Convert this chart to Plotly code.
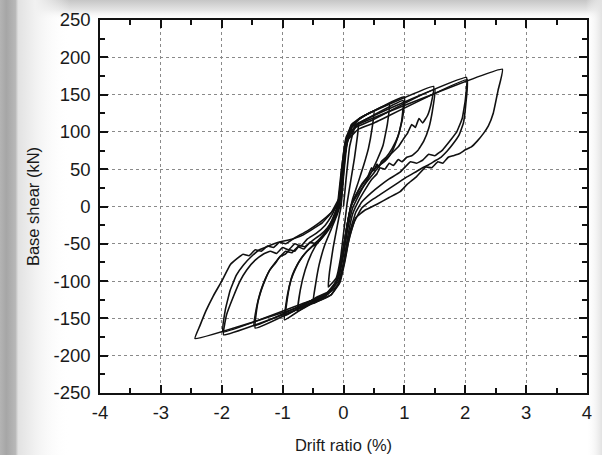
import base64
import plotly.graph_objects as go

# ---------------- data ----------------
# Each cycle: drift ratio (%) and base shear (kN)
cyc1_x = [0, 0.04, 0.1, 0.17, 0.25, 0.23, 0.18, 0.12, 0.06, 0.01, -0.05, -0.12, -0.25, -0.23, -0.17, -0.1, -0.04]
cyc1_y = [0, 35, 80, 103, 113, 95, 65, 35, 5, -30, -70, -96, -108, -88, -55, -25, 0]

cyc2_x = [-0.04, 0.0, 0.06, 0.14, 0.27, 0.5, 0.47, 0.41, 0.33, 0.24, 0.15, 0.07, 0.0, -0.07, -0.15, -0.3, -0.5,
          -0.46, -0.4, -0.31, -0.2, -0.1, -0.04]
cyc2_y = [0, 40, 85, 106, 118, 128, 105, 78, 55, 32, 10, -20, -55, -88, -106, -120, -130,
          -105, -78, -52, -30, -10, 5]

cyc3_x = [-0.04, 0.0, 0.05, 0.13, 0.28, 0.75, 0.72, 0.65, 0.55, 0.45, 0.35, 0.25, 0.15, 0.07, 0.0, -0.08, -0.2,
          -0.4, -0.75, -0.71, -0.63, -0.52, -0.4, -0.28, -0.16, -0.06]
cyc3_y = [5, 45, 88, 108, 119, 137, 110, 82, 62, 45, 30, 15, -2, -30, -65, -95, -113,
          -124, -140, -112, -85, -62, -45, -32, -15, 5]

cyc4_x = [-0.06, -0.01, 0.05, 0.13, 0.3, 1.0, 0.97, 0.9, 0.8, 0.7, 0.62, 0.58, 0.55, 0.5, 0.46, 0.4, 0.3,
          0.2, 0.12, 0.05, -0.02, -0.1, -0.25, -0.5, -0.97, -0.92, -0.86, -0.78, -0.7, -0.6, -0.5, -0.4, -0.3,
          -0.2, -0.1]
cyc4_y = [5, 48, 90, 110, 120, 147, 118, 95, 78, 66, 60, 52, 57, 48, 52, 40, 28,
          15, 0, -30, -65, -98, -117, -127, -152, -118, -98, -82, -70, -60, -52, -44, -35,
          -20, 0]

cyc5_x = [-0.1, -0.04, 0.03, 0.12, 0.35, 0.98, 0.95, 0.88, 0.8, 0.72, 0.64, 0.56, 0.48, 0.4, 0.3, 0.22,
          0.14, 0.06, -0.01, -0.08, -0.22, -0.45, -0.95, -0.9, -0.84, -0.76, -0.68, -0.6, -0.52, -0.44, -0.35,
          -0.25, -0.15, -0.08]
cyc5_y = [0, 45, 86, 106, 116, 142, 112, 90, 74, 64, 58, 54, 48, 40, 30, 18,
          4, -25, -62, -95, -113, -122, -146, -112, -92, -78, -68, -60, -54, -50, -42,
          -30, -14, 3]

cyc6_x = [-0.08, -0.03, 0.04, 0.15, 0.35, 1.48, 1.44, 1.38, 1.3, 1.24, 1.18, 1.12, 1.05, 0.98, 0.9,
          0.8, 0.7, 0.6, 0.5, 0.4, 0.3, 0.2, 0.12, 0.05, -0.03, -0.12, -0.3, -1.45,
          -1.41, -1.35, -1.28, -1.21, -1.12, -1.04, -0.95, -0.85, -0.75, -0.65, -0.55, -0.45, -0.35, -0.25,
          -0.15, -0.08]
cyc6_y = [0, 50, 92, 110, 122, 161, 138, 122, 112, 118, 106, 110, 98, 90, 80,
          72, 64, 56, 45, 35, 24, 12, 0, -30, -70, -100, -118, -163,
          -130, -112, -97, -85, -75, -67, -60, -62, -54, -57, -48, -50, -42, -32,
          -18, 0]

cyc7_x = [-0.08, -0.02, 0.06, 0.2, 0.45, 1.5, 1.46, 1.4, 1.32, 1.22, 1.12, 1.04, 0.96, 0.9, 0.82, 0.75,
          0.68, 0.6, 0.55, 0.45, 0.35, 0.25, 0.15, 0.07, 0.0, -0.08, -0.25, -0.5, -1.47,
          -1.43, -1.37, -1.3, -1.21, -1.12, -1.04, -0.96, -0.88, -0.8, -0.72, -0.64, -0.5, -0.38, -0.26, -0.15, -0.07]
cyc7_y = [0, 45, 88, 106, 115, 157, 128, 105, 88, 75, 68, 66, 60, 63, 55, 58,
          50, 52, 44, 35, 22, 8, -10, -40, -75, -100, -115, -125, -160,
          -136, -116, -100, -85, -76, -67, -64, -58, -60, -52, -54, -45, -38, -28, -14, 2]

cyc8_x = [-0.07, -0.01, 0.07, 0.22, 0.45, 2.02, 2.0, 1.95, 1.86, 1.75, 1.63, 1.5, 1.4, 1.3, 1.2,
          1.1, 0.93, 0.75, 0.6, 0.45, 0.3, 0.2, 0.1, 0.02, -0.06, -0.2, -0.45, -1.97,
          -1.92, -1.81, -1.7, -1.59, -1.45, -1.32, -1.2, -1.1, -1.0, -0.9, -0.8, -0.7, -0.6, -0.45, -0.3,
          -0.18, -0.08]
cyc8_y = [2, 50, 92, 110, 120, 173, 142, 118, 100, 88, 76, 68, 70, 62, 58,
          60, 46, 37, 28, 18, 6, -8, -35, -70, -100, -118, -128, -172,
          -145, -121, -100, -85, -72, -64, -60, -63, -55, -58, -50, -53, -44, -36, -25,
          -10, 8]

cyc9_x = [-0.08, -0.02, 0.08, 0.25, 0.5, 2.03, 2.01, 1.97, 1.9, 1.8, 1.7, 1.6, 1.5, 1.4, 1.3,
          1.2, 1.05, 0.9, 0.75, 0.6, 0.45, 0.3, 0.18, 0.08, 0.0, -0.08, -0.3, -0.6, -1.98,
          -1.94, -1.86, -1.76, -1.64, -1.5, -1.38, -1.26, -1.14, -1.02, -0.9, -0.78, -0.66, -0.5, -0.35,
          -0.2, -0.08]
cyc9_y = [8, 48, 90, 104, 112, 170, 138, 112, 96, 84, 74, 66, 61, 56, 52,
          47, 40, 32, 24, 16, 8, -2, -20, -48, -80, -104, -120, -128, -168,
          -138, -112, -92, -78, -66, -58, -54, -50, -47, -45, -42, -38, -30, -22,
          -8, 10]

cyc10_x = [-0.08, -0.02, 0.08, 0.2, 0.32, 2.61, 2.54, 2.46, 2.38, 2.3, 2.2, 2.1, 2.0, 1.91,
           1.8, 1.72, 1.63, 1.55, 1.45, 1.35, 1.2, 1.05, 0.93, 0.75, 0.55, 0.35, 0.2, 0.1, 0.02, -0.06,
           -0.2, -0.4, -2.44, -2.36, -2.26, -2.14, -2.0, -1.86, -1.75, -1.65, -1.55,
           -1.45, -1.35, -1.25, -1.15, -1.05, -0.95, -0.8, -0.6, -0.4, -0.2, -0.05]
cyc10_y = [8, 50, 95, 108, 113, 184, 156, 125, 108, 98, 88, 80, 76, 71,
           68, 66, 58, 60, 52, 53, 40, 30, 20, 12, 3, -5, -15, -40, -75, -102,
           -118, -126, -177, -160, -140, -120, -100, -78, -70, -64, -66,
           -58, -60, -53, -55, -48, -50, -42, -33, -22, -8, 5]

cycles = [(cyc1_x, cyc1_y), (cyc2_x, cyc2_y), (cyc3_x, cyc3_y), (cyc4_x, cyc4_y), (cyc5_x, cyc5_y),
          (cyc6_x, cyc6_y), (cyc7_x, cyc7_y), (cyc8_x, cyc8_y), (cyc9_x, cyc9_y), (cyc10_x, cyc10_y)]

x_tick_vals = [-4, -3, -2, -1, 0, 1, 2, 3, 4]
x_tick_text = ["-4", "-3", "-2", "-1", "0", "1", "2", "3", "4"]
y_tick_vals = [-250, -200, -150, -100, -50, 0, 50, 100, 150, 200, 250]
y_tick_text = ["-250", "-200", "-150", "-100", "-50", "0", "50", "100", "150", "200", "250"]

x_title = "Drift ratio (%)"
y_title = "Base shear (kN)"

# ---------------- figure ----------------
fig = go.Figure()
for cx, cy in cycles:
    fig.add_trace(go.Scatter(x=cx, y=cy, mode="lines",
                             line=dict(color="#111111", width=1.6, shape="spline", smoothing=0.3),
                             showlegend=False, hoverinfo="skip"))

FONT = "Liberation Sans, Arial, sans-serif"
W, H = 602, 455
L, R, T, B = 100, 15, 20, 62
pw, ph = W - L - R, H - T - B

# decorative slide-like grey edge shading (left, top, right), as one background picture
bg_svg = f"""<svg xmlns='http://www.w3.org/2000/svg' width='{W}' height='{H}' viewBox='0 0 {W} {H}' preserveAspectRatio='none'>
<defs>
<linearGradient id='gl' gradientUnits='userSpaceOnUse' x1='0' y1='0' x2='70' y2='0'>
<stop offset='0' stop-color='#b4b4b4' stop-opacity='1'/>
<stop offset='0.09' stop-color='#a6a6a6' stop-opacity='1'/>
<stop offset='0.22' stop-color='#b8b8b8' stop-opacity='1'/>
<stop offset='0.26' stop-color='#e2e2e2' stop-opacity='1'/>
<stop offset='0.5' stop-color='#f1f1f1' stop-opacity='1'/>
<stop offset='1' stop-color='#ffffff' stop-opacity='0'/>
</linearGradient>
<linearGradient id='gt' gradientUnits='userSpaceOnUse' x1='0' y1='0' x2='0' y2='20'>
<stop offset='0' stop-color='#c6c6c6' stop-opacity='1'/>
<stop offset='0.5' stop-color='#e4e4e4' stop-opacity='1'/>
<stop offset='1' stop-color='#ffffff' stop-opacity='0'/>
</linearGradient>
<linearGradient id='gr' gradientUnits='userSpaceOnUse' x1='{W - 16}' y1='0' x2='{W}' y2='0'>
<stop offset='0' stop-color='#ffffff' stop-opacity='0'/>
<stop offset='1' stop-color='#e2e2e2' stop-opacity='1'/>
</linearGradient>
</defs>
<rect x='0' y='0' width='{W}' height='{H}' fill='#ffffff'/>
<rect x='0' y='0' width='{W}' height='20' fill='url(#gt)'/>
<rect x='{W - 16}' y='0' width='16' height='{H}' fill='url(#gr)'/>
<rect x='0' y='0' width='70' height='{H}' fill='url(#gl)'/>
</svg>"""
bg_uri = "data:image/svg+xml;base64," + base64.b64encode(bg_svg.encode("utf-8")).decode("ascii")

axis_common = dict(
    showline=True, linecolor="#111111", linewidth=1.6, mirror="allticks",
    ticks="inside", ticklen=8, tickwidth=1.6, tickcolor="#111111",
    showgrid=True, gridcolor="#8a8a8a", gridwidth=1, griddash="dot",
    zeroline=False, automargin=False,
    tickfont=dict(family=FONT, size=18.5, color="#1a1a1a"),
)

fig.update_layout(
    width=W, height=H,
    margin=dict(l=L, r=R, t=T, b=B, autoexpand=False),
    paper_bgcolor="white", plot_bgcolor="white",
    images=[dict(source=bg_uri, xref="paper", yref="paper",
                 x=-L / pw, y=1 + T / ph, sizex=W / pw, sizey=H / ph,
                 xanchor="left", yanchor="top", sizing="stretch", layer="below")],
    xaxis=dict(range=[-4, 4], tickmode="array", tickvals=x_tick_vals, ticktext=x_tick_text,
               ticklabelstandoff=2,
               minor=dict(dtick=0.5, tick0=0, ticks="inside", ticklen=5, tickwidth=1.6, tickcolor="#111111",
                          showgrid=False),
               title=dict(text=x_title, font=dict(family=FONT, size=16.5, color="#1a1a1a"), standoff=17),
               **axis_common),
    yaxis=dict(range=[-250, 250], tickmode="array", tickvals=y_tick_vals, ticktext=y_tick_text,
               ticklabelstandoff=4,
               minor=dict(dtick=25, tick0=0, ticks="inside", ticklen=5, tickwidth=1.6, tickcolor="#111111",
                          showgrid=False),
               title=dict(text=y_title, font=dict(family=FONT, size=16.5, color="#1a1a1a"), standoff=10),
               **axis_common),
)

# remove the default page margin so the 602x455 figure fills the window exactly
fig.write_html("out.html", config={"displayModeBar": False},
               post_script="document.body.style.margin='0';document.body.style.overflow='hidden';")
